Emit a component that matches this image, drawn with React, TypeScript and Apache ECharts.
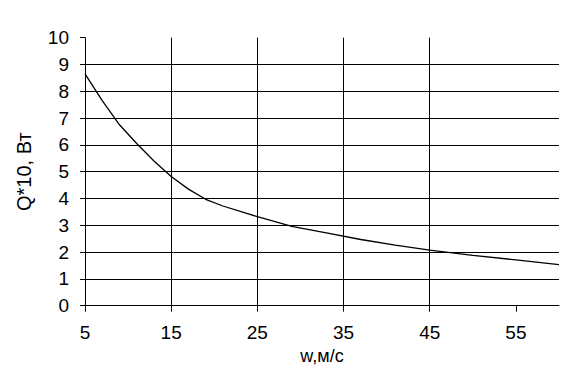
import React, { useEffect, useRef } from "react";
import * as echarts from "echarts";

const speeds = [5, 7, 9, 11, 13, 15, 17, 19, 21, 25, 29, 33, 37, 41, 45, 50, 55, 60];
const heat = [8.65, 7.65, 6.75, 6.05, 5.4, 4.82, 4.35, 3.97, 3.72, 3.32, 2.96, 2.72, 2.47, 2.26, 2.07, 1.88, 1.71, 1.53];
const xTicks = [5, 15, 25, 35, 45, 55];
const xName = "w,м/с";
const yName = "Q*10, Вт";

export default function App() {
  const ref = useRef<HTMLDivElement>(null);
  useEffect(() => {
    if (!ref.current) return;
    const chart = echarts.init(ref.current, null, { renderer: "svg" });
    const font = "'Liberation Sans', Arial, sans-serif";
    chart.setOption({
      animation: false,
      backgroundColor: "#ffffff",
      grid: { left: 85, right: 22, top: 37.7, bottom: 69.3, containLabel: false },
      xAxis: {
        type: "value",
        min: 5,
        max: 60,
        interval: 10,
        name: xName,
        nameLocation: "middle",
        nameGap: 39,
        nameTextStyle: { color: "#000", fontSize: 18, fontFamily: font },
        axisLine: { show: true, onZero: false, lineStyle: { color: "#000", width: 1 } },
        axisTick: { show: true, length: 6, inside: false, customValues: xTicks, lineStyle: { color: "#000", width: 1 } },
        axisLabel: { show: true, customValues: xTicks, margin: 17, color: "#000", fontSize: 19, fontFamily: font },
        splitLine: { show: true, showMinLine: false, showMaxLine: false, lineStyle: { color: "#000", width: 1 } },
      },
      yAxis: {
        type: "value",
        min: 0,
        max: 10,
        interval: 1,
        name: yName,
        nameLocation: "middle",
        nameGap: 51,
        nameRotate: 90,
        nameTextStyle: { color: "#000", fontSize: 20, fontFamily: font },
        axisLine: { show: true, lineStyle: { color: "#000", width: 1 } },
        axisTick: { show: true, length: 5, inside: false, lineStyle: { color: "#000", width: 1 } },
        axisLabel: { show: true, margin: 16, color: "#000", fontSize: 19, fontFamily: font },
        splitLine: { show: true, showMinLine: false, showMaxLine: false, lineStyle: { color: "#000", width: 1 } },
      },
      series: [
        {
          type: "line",
          data: speeds.map((w, i) => [w, heat[i]]),
          showSymbol: false,
          symbol: "none",
          smooth: false,
          lineStyle: { color: "#000", width: 1.3 },
          silent: true,
        },
      ],
    });
    return () => chart.dispose();
  }, []);
  return <div ref={ref} style={{ width: 581, height: 375, position: "absolute", left: 0, top: 0 }} />;
}
